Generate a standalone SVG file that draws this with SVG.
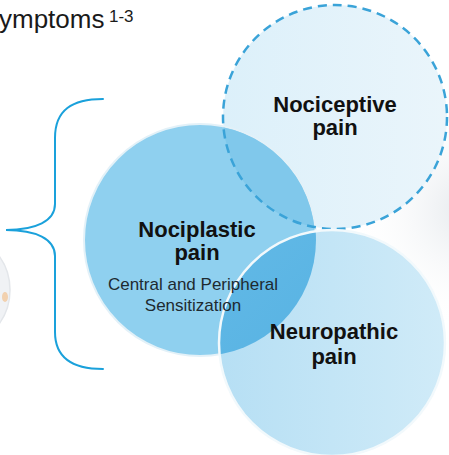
<svg xmlns="http://www.w3.org/2000/svg" width="449" height="455" viewBox="0 0 449 455">
  <defs>
    <style>
      .title { font-family: "Liberation Sans", Arial, sans-serif; font-weight: bold; font-size: 22px; fill: #111111; text-anchor: middle; }
      .sub { font-family: "Liberation Sans", Arial, sans-serif; font-size: 17px; fill: #1e2a30; text-anchor: middle; }
      .head { font-family: "Liberation Sans", Arial, sans-serif; fill: #1a1a1a; }
      .brace { fill: none; stroke: #1aa1db; stroke-width: 2; stroke-linecap: round; }
    </style>
    <radialGradient id="bgGlow" cx="470" cy="210" r="120" gradientUnits="userSpaceOnUse">
      <stop offset="0" stop-color="#e4e8ec"/>
      <stop offset="1" stop-color="#ffffff" stop-opacity="0"/>
    </radialGradient>
    <linearGradient id="gNoci" x1="223" y1="0" x2="447" y2="0" gradientUnits="userSpaceOnUse">
      <stop offset="0" stop-color="#dcf0fa"/>
      <stop offset="1" stop-color="#eaf5fb"/>
    </linearGradient>
    <linearGradient id="gNeuro" x1="219" y1="0" x2="445" y2="0" gradientUnits="userSpaceOnUse">
      <stop offset="0" stop-color="#b6dff4"/>
      <stop offset="1" stop-color="#d0ebf8"/>
    </linearGradient>
    <linearGradient id="gOver" x1="219" y1="240" x2="316" y2="350" gradientUnits="userSpaceOnUse">
      <stop offset="0" stop-color="#62b9e6"/>
      <stop offset="1" stop-color="#58b3e3"/>
    </linearGradient>
    <clipPath id="clipNociceptive"><circle cx="335" cy="117" r="112"/></clipPath>
    <clipPath id="clipNeuropathic"><circle cx="332" cy="343" r="113"/></clipPath>
  </defs>

  <rect width="449" height="455" fill="#ffffff"/>
  <rect x="330" y="60" width="119" height="300" fill="url(#bgGlow)"/>

  <!-- partial photo at left edge -->
  <g id="left-photo">
    <circle cx="-48" cy="290" r="58" fill="#f0f2f5" stroke="#e3e6ea" stroke-width="1.5"/>
    <ellipse cx="5" cy="297" rx="3" ry="5" fill="#f3b06a" opacity="0.5"/>
  </g>

  <!-- heading fragment -->
  <g id="heading">
    <text class="head" x="-1" y="28" font-size="26">ymptoms</text>
    <text class="head" x="109" y="22" font-size="17">1-3</text>
  </g>

  <!-- brace -->
  <g id="connectors">
    <path class="brace" d="M103,99 C72,99 55,110 55,138 L55,204 C55,221 36,230 6,230 C36,230 55,239 55,256 L55,332 C55,358 72,369 103,369"/>
  </g>

  <!-- Nociceptive (fill) -->
  <g id="node-nociceptive-fill">
    <circle cx="335" cy="117" r="112" fill="url(#gNoci)"/>
  </g>

  <!-- Nociplastic -->
  <g id="node-nociplastic">
    <circle cx="200" cy="240" r="116" fill="#8fd0ef" stroke="#e3f1f8" stroke-width="2"/>
    <circle cx="200" cy="240" r="115" fill="#80c8eb" clip-path="url(#clipNociceptive)"/>
  </g>

  <!-- Nociceptive dashed outline + label -->
  <g id="node-nociceptive">
    <circle cx="335" cy="117" r="112" fill="none" stroke="#3aa3d8" stroke-width="2.5" stroke-dasharray="9 6"/>
    <text class="title" x="335" y="112">Nociceptive</text>
    <text class="title" x="335" y="135">pain</text>
  </g>

  <!-- Neuropathic -->
  <g id="node-neuropathic">
    <circle cx="332" cy="343" r="113" fill="url(#gNeuro)"/>
    <circle cx="200" cy="240" r="116" fill="url(#gOver)" clip-path="url(#clipNeuropathic)"/>
    <circle cx="332" cy="343" r="113" fill="none" stroke="#f2f9fc" stroke-width="2.5"/>
    <text class="title" x="334" y="339">Neuropathic</text>
    <text class="title" x="334" y="364">pain</text>
  </g>

  <!-- Nociplastic labels -->
  <g id="node-nociplastic-labels">
    <text class="title" x="197" y="237">Nociplastic</text>
    <text class="title" x="197" y="260">pain</text>
    <text class="sub" x="193" y="290">Central and Peripheral</text>
    <text class="sub" x="193" y="311">Sensitization</text>
  </g>
</svg>
